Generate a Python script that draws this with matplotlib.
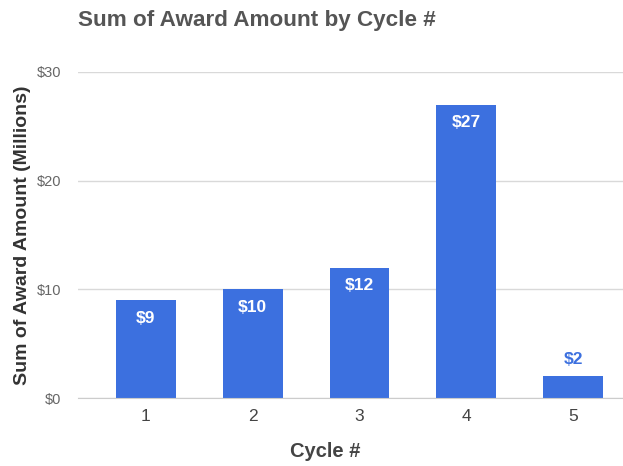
import matplotlib.pyplot as plt

# data
cycles = [1, 2, 3, 4, 5]
amounts = [9, 10, 12, 27, 2]   # millions
labels = ["$9", "$10", "$12", "$27", "$2"]
yticks = [0, 10, 20, 30]
ytick_labels = ["$0", "$10", "$20", "$30"]

blue = "#3c70df"
plt.rcParams['font.family'] = ['Liberation Sans', 'DejaVu Sans']

fig = plt.figure(figsize=(6.23, 4.66), dpi=100)
ax = fig.add_axes([0.1252, 0.1459, 0.8748, 0.6996])

ax.bar(cycles, amounts, width=0.56, color=blue, zorder=2)

for x, v, lab in zip(cycles, amounts, labels):
    if v >= 5:
        ax.annotate(lab, (x, v), xytext=(0, -13), textcoords='offset points',
                    ha='center', va='center', color='white', fontsize=12.5, fontweight='bold')
    else:
        ax.annotate(lab, (x, v), xytext=(0, 12), textcoords='offset points',
                    ha='center', va='center', color=blue, fontsize=12.5, fontweight='bold')

ax.set_xlim(0.364, 5.467)
ax.set_ylim(0, 30)
ax.set_yticks(yticks)
ax.set_yticklabels(ytick_labels, color='#666666', fontsize=10.5)
ax.set_xticks(cycles)
ax.set_xticklabels([str(c) for c in cycles], color='#444444', fontsize=12.5)
ax.tick_params(length=0)
ax.tick_params(axis='x', pad=8)
ax.tick_params(axis='y', pad=12)
ax.grid(axis='y', color='#d9d9d9', linewidth=1, zorder=0)
for s in ['top', 'right', 'left']:
    ax.spines[s].set_visible(False)
ax.spines['bottom'].set_color('#cccccc')

fig.text(0.1252, 0.955, "Sum of Award Amount by Cycle #", fontsize=16.2, fontweight='bold',
         color='#555555', ha='left', va='center')
fig.text(0.036, 0.4958, "Sum of Award Amount (Millions)", fontsize=14, fontweight='bold',
         color='#333333', rotation=90, ha='center', va='center')
fig.text(0.522, 0.032, "Cycle #", fontsize=14.5, fontweight='bold', color='#444444',
         ha='center', va='center')

fig.savefig("out.png", dpi=100)
